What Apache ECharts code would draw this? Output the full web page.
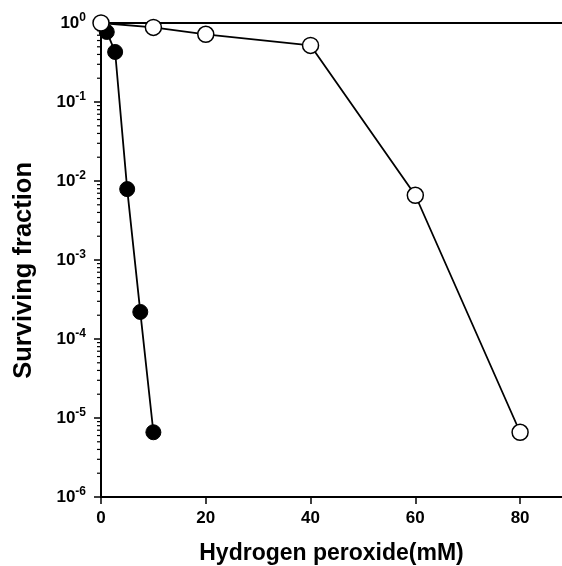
<!DOCTYPE html>
<html>
<head>
<meta charset="utf-8">
<script src="https://cdn.jsdelivr.net/npm/echarts@6/dist/echarts.min.js"></script>
<style>html,body{margin:0;padding:0;background:#fff}#c{width:562px;height:566px}</style>
</head>
<body>
<div id="c"></div>
<script>
// Data
const openX = [0, 10, 20, 40, 60, 80];
const openY = [1.0, 0.88, 0.72, 0.52, 0.0066, 0.0000066];
const filledX = [1.1, 2.7, 5, 7.5, 10];
const filledY = [0.77, 0.43, 0.0079, 0.00022, 0.0000066];
const xTicks = [0, 20, 40, 60, 80];
const yDecades = [-6, -5, -4, -3, -2, -1, 0];

const FONT = '"Liberation Sans", Arial, sans-serif';

const minorVals = [];
for (let k = -6; k < 0; k++) {
  for (let m = 2; m <= 9; m++) minorVals.push([0, m * Math.pow(10, k)]);
}

const chart = echarts.init(document.getElementById('c'), null, {renderer: 'canvas'});
chart.setOption({
  animation: false,
  backgroundColor: '#fff',
  grid: {left: 101, right: 0, top: 23, bottom: 69, containLabel: false, outerBoundsMode: 'none'},
  graphic: [{
    type: 'text', left: 11, top: 162,
    style: {text: 'Surviving fraction', fontFamily: FONT, fontWeight: 'bold', fontSize: 25.5, fill: '#000'},
    rotation: Math.PI / 2, originX: 0, originY: 0
  }],
  xAxis: [{
    type: 'value', min: 0, max: 88, interval: 20,
    name: 'Hydrogen peroxide(mM)', nameLocation: 'middle', nameGap: 45,
    nameTextStyle: {fontFamily: FONT, fontWeight: 'bold', fontSize: 23, color: '#000'},
    axisLine: {show: true, lineStyle: {color: '#000', width: 2}},
    axisTick: {show: true, length: 7, inside: false, lineStyle: {color: '#000', width: 1.5}},
    axisLabel: {show: true, showMaxLabel: false, margin: 13, fontFamily: FONT, fontWeight: 'bold', fontSize: 17, color: '#000',
      formatter: v => xTicks.indexOf(v) >= 0 ? String(v) : ''},
    splitLine: {show: false}
  }, {
    type: 'value', min: 0, max: 88, position: 'top',
    axisLine: {show: true, onZero: false, lineStyle: {color: '#000', width: 2}},
    axisTick: {show: false}, axisLabel: {show: false}, splitLine: {show: false}
  }],
  yAxis: {
    type: 'log', logBase: 10, min: 0.000001, max: 1,
    axisLine: {show: true, lineStyle: {color: '#000', width: 2}},
    axisTick: {show: true, length: 7, lineStyle: {color: '#000', width: 1.5}},
    axisLabel: {
      margin: 15,
      formatter: v => {
        const e = Math.round(Math.log10(v));
        if (yDecades.indexOf(e) < 0) return '';
        return '{b|10}{s|' + e + '}';
      },
      rich: {
        b: {fontFamily: FONT, fontWeight: 'bold', fontSize: 17, color: '#000'},
        s: {fontFamily: FONT, fontWeight: 'bold', fontSize: 12, color: '#000', padding: [0, 0, 11, 0]}
      }
    },
    splitLine: {show: false}
  },
  series: [{
    type: 'custom', coordinateSystem: 'cartesian2d', clip: false, silent: true,
    data: minorVals,
    renderItem: (params, api) => {
      const p = api.coord([api.value(0), api.value(1)]);
      return {type: 'line', shape: {x1: p[0] - 4, y1: p[1], x2: p[0], y2: p[1]},
        style: {stroke: '#000', lineWidth: 1.2}};
    }
  }, {
    type: 'line', clip: false, z: 3,
    data: filledX.map((x, i) => [x, filledY[i]]),
    symbol: 'circle', symbolSize: 15,
    lineStyle: {color: '#000', width: 1.8},
    itemStyle: {color: '#000', borderColor: '#000', borderWidth: 1}
  }, {
    type: 'line', clip: false, z: 4,
    data: openX.map((x, i) => [x, openY[i]]),
    symbol: 'circle', symbolSize: 16,
    lineStyle: {color: '#000', width: 1.8},
    itemStyle: {color: '#fff', borderColor: '#000', borderWidth: 1.5}
  }]
});
</script>
</body>
</html>
